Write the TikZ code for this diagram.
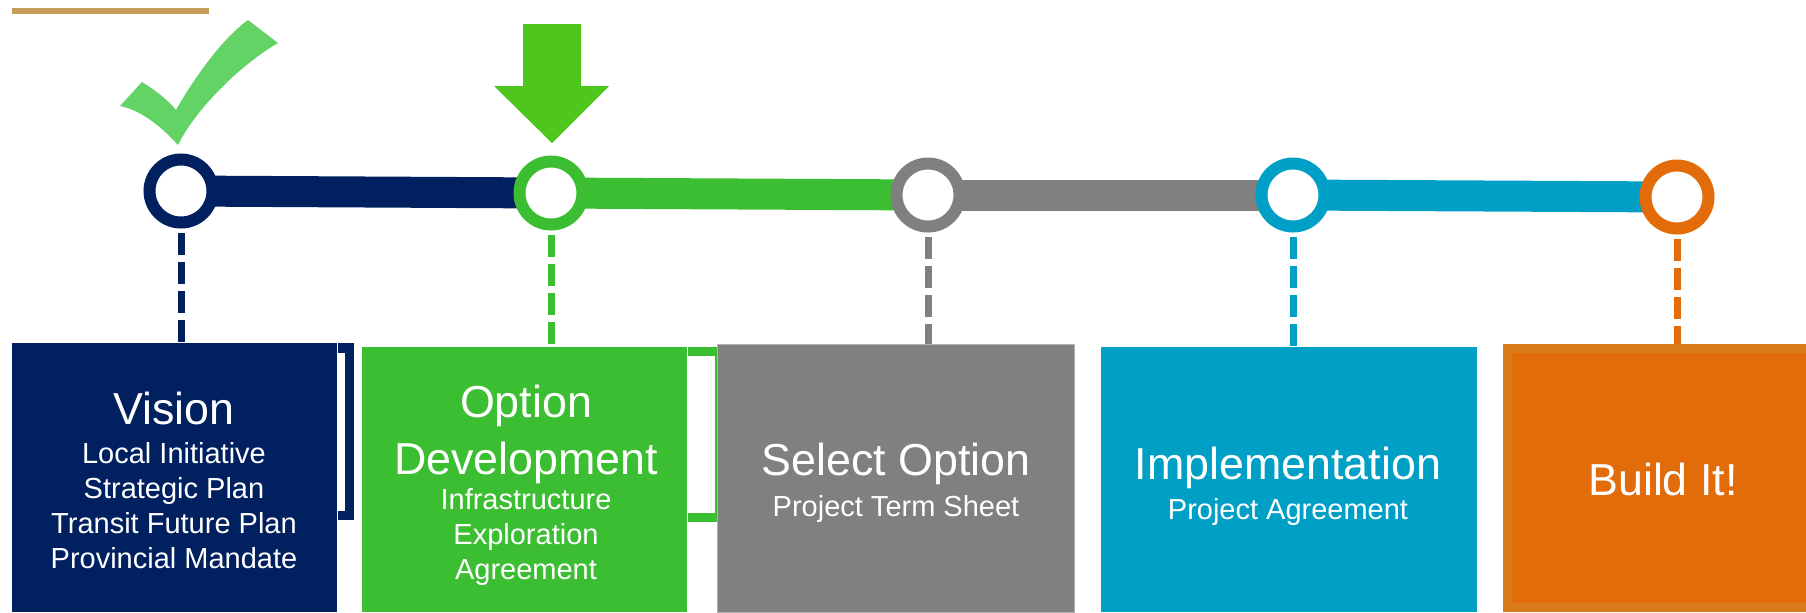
\documentclass[tikz,border=0pt]{standalone}
\usepackage{fontspec}
\setmainfont{Liberation Sans}
\usepackage{tikz}
\usepackage{xcolor}
\usetikzlibrary{positioning, backgrounds}
\definecolor{StageNavy}{HTML}{002060}
\definecolor{StageGreen}{HTML}{3CBE32}
\definecolor{StageGray}{HTML}{808080}
\definecolor{StageCyan}{HTML}{00A0C6}
\definecolor{StageOrange}{HTML}{E36C0A}
\definecolor{StageOrangeEdge}{HTML}{D97B1A}
\definecolor{TickGreen}{HTML}{62D364}
\definecolor{ArrowGreen}{HTML}{4FC61E}
\definecolor{RuleGold}{HTML}{C59B58}

\begin{document}
\begin{tikzpicture}[x=0.5pt, y=-0.5pt, on grid,
    ring/.style={circle, draw=#1, line width=6pt, fill=white, minimum size=31.5pt, inner sep=0pt},
    track/.style={draw=#1, line width=15.5pt},
    drop/.style={draw=#1, line width=3.5pt, dash pattern=on 11pt off 3.5pt, shorten <=2.25pt},
    stagebox/.style={rectangle, fill=#1, anchor=north west, inner sep=0pt},
    stagehead/.style={anchor=north, inner sep=0pt, text=white, align=center, font=\fontsize{22.4pt}{28.5pt}\selectfont},
    stagesub/.style={anchor=north, inner sep=0pt, text=white, align=center, font=\fontsize{14.5pt}{17.5pt}\selectfont}]

        \useasboundingbox (0,0) rectangle (1806,612);

        % gold rule, tick and arrow
        \draw[RuleGold, line width=3pt] (12,11) -- (209,11);
        \fill[TickGreen] (142,82) .. controls (155,90) and (168,100) .. (176,110)
            .. controls (190,85) and (220,40) .. (248,20) -- (278,43)
            .. controls (240,65) and (195,110) .. (178,145)
            .. controls (160,125) and (140,110) .. (120,106) -- cycle;
        \fill[ArrowGreen] (523,24) -- (581,24) -- (581,86) -- (609,86) -- (552,143)
            -- (494,86) -- (523,86) -- cycle;

        % timeline stops
        \node[ring=StageNavy] (c1) at (181,191) {};
        \node[ring=StageGreen, right=185pt of c1, yshift=-1pt] (c2) {};
        \node[ring=StageGray, right=188.5pt of c2, yshift=-1pt] (c3) {};
        \node[ring=StageCyan, right=182.5pt of c3] (c4) {};
        \node[ring=StageOrange, right=192pt of c4, yshift=-1pt] (c5) {};

        \begin{scope}[on background layer]
            \path
            (c1.center) edge[track=StageNavy] (c2.center)
            (c2.center) edge[track=StageGreen] (c3.center)
            (c3.center) edge[track=StageGray] (c4.center)
            (c4.center) edge[track=StageCyan] (c5.center);
        \end{scope}

        % stage boxes
        \node[stagebox=StageNavy, minimum width=162.5pt, minimum height=134.5pt] (vision) at (12,343) {};
        \fill[StageNavy] (vision.north east) rectangle (354,520);
        \fill[white] (337,353) rectangle (345,511);

        \node[stagebox=StageGreen, minimum width=162.5pt, minimum height=132.5pt] (option) at (362,347) {};
        \fill[StageGreen] (option.north east) rectangle (719,522);
        \fill[white] (687,356) rectangle (715,513);

        \node[stagebox=StageGray, draw=gray!60, line width=0.5pt, minimum width=178.5pt, minimum height=134pt] (select) at (717,344) {};
        \node[stagebox=StageCyan, minimum width=188pt, minimum height=132.5pt] (impl) at (1101,347) {};
        \node[stagebox=StageOrange, draw=StageOrangeEdge, line width=4.5pt, minimum width=151.5pt, minimum height=129.5pt] (build) at (1503,344) {};

        % dashed drops
        \draw[drop=StageNavy] (c1) -- (c1 |- vision.north);
        \draw[drop=StageGreen] (c2) -- (c2 |- option.north);
        \draw[drop=StageGray] (c3) -- (c3 |- select.north);
        \draw[drop=StageCyan] (c4) -- (c4 |- impl.north);
        \draw[drop=StageOrange] (c5) -- (c5 |- build.north);

        % texts
        \node[stagehead] (visionT) at (174,392) {Vision};
        \node[stagesub] (visionS) at (174,442) {Local Initiative\\Strategic Plan\\Transit Future Plan\\Provincial Mandate};

        \node[stagehead] (optionT) at (526,385) {Option\\Development};
        \node[stagesub] (optionS) at (526,488) {Infrastructure\\Exploration\\Agreement};

        \node[stagehead] (selectT) at (896,443) {Select Option};
        \node[stagesub] (selectS) at (896,495) {Project Term Sheet};

        \node[stagehead] (implT) at (1288,447) {Implementation};
        \node[stagesub] (implS) at (1288,498) {Project Agreement};

        \node[stagehead] (buildT) at (1663,463) {Build It!};

    \end{tikzpicture}
\end{document}
